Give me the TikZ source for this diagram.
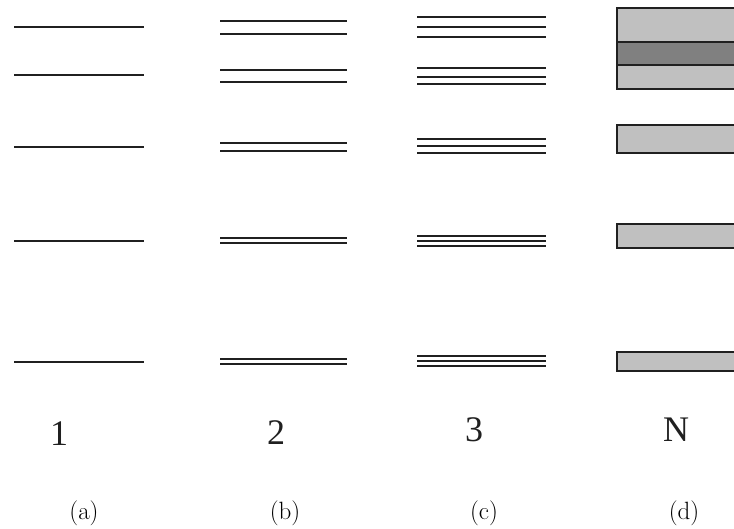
\documentclass[tikz,border=0pt]{standalone}
\usepackage{fontspec}
\newfontfamily\digitfont{Liberation Serif}
\definecolor{lightg}{HTML}{C0C0C0}
\definecolor{darkg}{HTML}{808080}
\definecolor{ink}{HTML}{202020}
\begin{document}
\begin{tikzpicture}[x=1pt,y=-1pt,
  ln/.style={line width=1.8pt, draw=ink},
  bx/.style={draw=ink, line width=1.8pt, fill=lightg},
  dbx/.style={draw=ink, line width=1.8pt, fill=darkg},
  numlab/.style={font=\digitfont\fontsize{36}{40}\selectfont, text=ink, inner sep=0pt},
  sublab/.style={font=\fontsize{25}{30}\selectfont, text=black, inner sep=0pt}]
\useasboundingbox (0,0) rectangle (734,529);
\clip (0,0) rectangle (734,529);
\fill[white] (0,0) rectangle (734,529);
% column (a)
\foreach \y in {27.3,74.7,147,241,362}
  \draw[ln] (14,\y) -- (143.5,\y);
% column (b)
\foreach \y in {20.7,34.3,70,81.7,143.3,150.7,238.3,243.3,359,363.7}
  \draw[ln] (220,\y) -- (347,\y);
% column (c)
\foreach \y in {17.3,27,36.7,67.7,77,84.3,138.7,145.7,153.3,235.7,240.7,245.7,356,361.3,366}
  \draw[ln] (417,\y) -- (545.5,\y);
% column (d)
\draw[bx] (617,8.3) rectangle (745,89);
\draw[dbx] (617,42.3) rectangle (745,65);
\draw[bx] (617,125) rectangle (745,153.3);
\draw[bx] (617,224.3) rectangle (745,247.7);
\draw[bx] (617,352.3) rectangle (745,370.7);
% labels
\node[numlab] (n1) at (59,434) {1};
\node[numlab] (n2) at (276,433) {2};
\node[numlab] (n3) at (474,430) {3};
\node[numlab] (nN) at (676,430) {N};
\node[sublab] (la) at (84,513) {(a)};
\node[sublab] (lb) at (285,513) {(b)};
\node[sublab] (lc) at (484,513) {(c)};
\node[sublab] (ld) at (684,513) {(d)};
\end{tikzpicture}
\end{document}
